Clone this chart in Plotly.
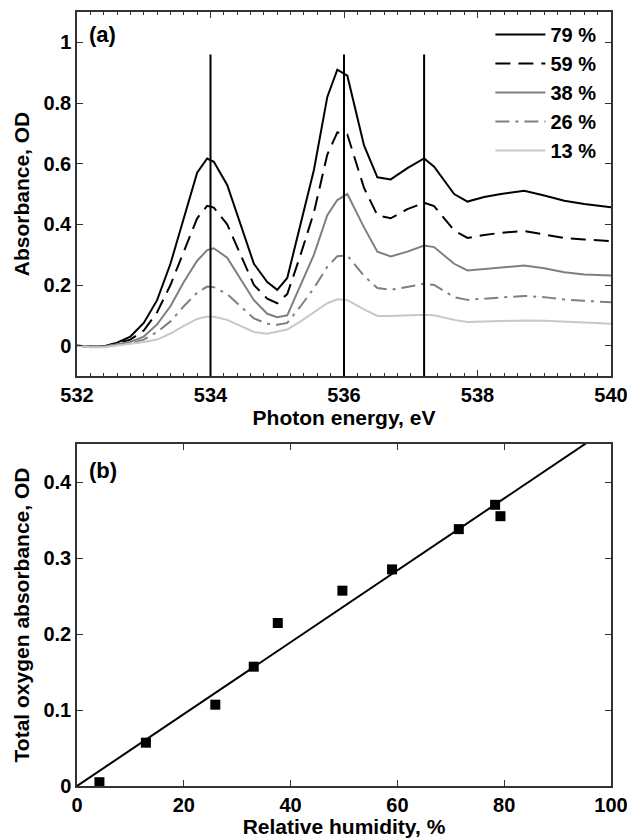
import plotly.graph_objects as go
from plotly.subplots import make_subplots

# ---------------- data: panel (a) ----------------
energy = [532.0, 532.2, 532.4, 532.6, 532.8, 533.0, 533.2, 533.4, 533.6, 533.8,
          533.95, 534.05, 534.25, 534.45, 534.65, 534.85, 535.0, 535.15, 535.35, 535.55,
          535.75, 535.9, 536.05, 536.3, 536.5, 536.7, 536.95, 537.2, 537.35, 537.65,
          537.85, 538.1, 538.35, 538.7, 539.0, 539.3, 539.6, 540.0]

abs_79 = [0.0, -0.003, -0.003, 0.01, 0.03, 0.075, 0.15, 0.27, 0.42, 0.57,
          0.617, 0.606, 0.53, 0.40, 0.27, 0.21, 0.184, 0.223, 0.40, 0.58,
          0.82, 0.910, 0.89, 0.66, 0.555, 0.548, 0.585, 0.617, 0.59, 0.50,
          0.475, 0.49, 0.50, 0.511, 0.495, 0.478, 0.467, 0.456]

abs_59 = [0.0, -0.003, -0.003, 0.008, 0.02, 0.05, 0.11, 0.20, 0.31, 0.42,
          0.461, 0.455, 0.40, 0.30, 0.20, 0.155, 0.14, 0.17, 0.30, 0.44,
          0.63, 0.703, 0.696, 0.52, 0.43, 0.42, 0.45, 0.471, 0.46, 0.38,
          0.355, 0.365, 0.372, 0.378, 0.367, 0.355, 0.35, 0.345]

abs_38 = [0.0, -0.003, -0.003, 0.005, 0.012, 0.03, 0.07, 0.13, 0.21, 0.28,
          0.315, 0.321, 0.29, 0.22, 0.15, 0.105, 0.094, 0.10, 0.20, 0.30,
          0.43, 0.48, 0.50, 0.39, 0.31, 0.294, 0.31, 0.33, 0.325, 0.27,
          0.248, 0.252, 0.258, 0.264, 0.255, 0.242, 0.235, 0.231]

abs_26 = [0.0, -0.003, -0.003, 0.003, 0.008, 0.02, 0.045, 0.08, 0.13, 0.175,
          0.195, 0.193, 0.17, 0.13, 0.09, 0.072, 0.069, 0.075, 0.13, 0.19,
          0.26, 0.295, 0.298, 0.23, 0.19, 0.184, 0.195, 0.204, 0.20, 0.16,
          0.151, 0.155, 0.16, 0.164, 0.16, 0.152, 0.148, 0.143]

abs_13 = [0.0, -0.005, -0.005, 0.0, 0.005, 0.012, 0.02, 0.04, 0.065, 0.088,
          0.096, 0.095, 0.085, 0.065, 0.045, 0.039, 0.045, 0.053, 0.08, 0.11,
          0.14, 0.153, 0.15, 0.12, 0.098, 0.098, 0.10, 0.102, 0.10, 0.085,
          0.078, 0.08, 0.082, 0.083, 0.082, 0.08, 0.076, 0.072]

series_names = ["79 %", "59 %", "38 %", "26 %", "13 %"]
series_values = [abs_79, abs_59, abs_38, abs_26, abs_13]

peak_lines = [534.0, 536.0, 537.2]
peak_line_top = 0.96

# ---------------- data: panel (b) ----------------
rh = [4.2, 12.9, 25.9, 33.1, 37.6, 49.7, 59.0, 71.5, 78.3, 79.3]
total_abs = [0.005, 0.057, 0.107, 0.157, 0.2145, 0.257, 0.285, 0.338, 0.37, 0.355]
fit_x = [0, 100]
fit_y = [0.0, 0.473]

# ---------------- styles ----------------
colors = ["#000000", "#000000", "#7f7f7f", "#7f7f7f", "#c8c8c8"]
dashes = ["solid", "15px,8px", "solid", "14px,6px,3px,6px", "solid"]

FONT = "Liberation Sans, Arial, sans-serif"
TICKF = dict(family=FONT, size=20, color="black", weight="bold")
TITLEF = dict(family=FONT, size=21, color="black", weight="bold")

fig = make_subplots(rows=2, cols=1, vertical_spacing=0.0)

for name, vals, c, d in zip(series_names, series_values, colors, dashes):
    fig.add_trace(go.Scatter(x=energy, y=vals, mode="lines", name=name,
                             line=dict(color=c, width=2, dash=d)), row=1, col=1)

for xv in peak_lines:
    fig.add_shape(type="line", x0=xv, x1=xv, y0=-0.1, y1=peak_line_top,
                  xref="x", yref="y", line=dict(color="black", width=2))

fig.add_trace(go.Scatter(x=fit_x, y=fit_y, mode="lines", showlegend=False,
                         line=dict(color="black", width=2)), row=2, col=1)
fig.add_trace(go.Scatter(x=rh, y=total_abs, mode="markers", showlegend=False,
                         marker=dict(symbol="square", size=10, color="black"),
                         cliponaxis=False), row=2, col=1)

axis_common = dict(showline=True, linecolor="#333333", linewidth=1.5, mirror="ticks",
                   ticks="inside", ticklen=6, tickwidth=1.2, tickcolor="#333333",
                   showgrid=False, zeroline=False, tickfont=TICKF, automargin=False)

fig.update_xaxes(**axis_common)
fig.update_yaxes(**axis_common)

H = 838.0
top_px, bot_px = 12, 52
plot_h = H - top_px - bot_px
def dom(y_top, y_bottom):
    return [(H - bot_px - y_bottom) / plot_h, (H - bot_px - y_top) / plot_h]

fig.update_layout(
    xaxis=dict(domain=[0, 1], range=[532, 540], tick0=532, dtick=2,
               minor=dict(dtick=0.2, ticks="inside", ticklen=3, tickcolor="#333333"),
               title=dict(text="Photon energy, eV", standoff=4, font=TITLEF)),
    yaxis=dict(domain=dom(12, 376), range=[-0.1, 1.1], tickvals=[0, 0.2, 0.4, 0.6, 0.8, 1.0],
               ticktext=["0", "0.2", "0.4", "0.6", "0.8", "1"],
               title=dict(text="Absorbance, OD", standoff=8, font=TITLEF)),
    xaxis2=dict(domain=[0, 1], range=[0, 100], dtick=20,
                title=dict(text="Relative humidity, %", standoff=4, font=TITLEF)),
    yaxis2=dict(domain=dom(444, 786), range=[0, 0.45], tickvals=[0, 0.1, 0.2, 0.3, 0.4],
                ticktext=["0", "0.1", "0.2", "0.3", "0.4"],
                title=dict(text="Total oxygen absorbance, OD", standoff=8, font=TITLEF)),
    width=630, height=838,
    margin=dict(l=77, r=19, t=top_px, b=bot_px, autoexpand=False),
    paper_bgcolor="white", plot_bgcolor="white",
    font=dict(family=FONT, color="black"),
    legend=dict(x=0.982, y=0.996, xanchor="right", yanchor="top",
                bgcolor="rgba(0,0,0,0)", borderwidth=0, itemwidth=50,
                font=dict(family=FONT, size=20, color="black", weight="bold"),
                tracegroupgap=0),
    annotations=[
        dict(text="(a)", xref="x domain", yref="y domain", x=0.018, y=0.978,
             xanchor="left", yanchor="top", showarrow=False,
             font=dict(family=FONT, size=22, color="black", weight="bold")),
        dict(text="(b)", xref="x2 domain", yref="y2 domain", x=0.018, y=0.965,
             xanchor="left", yanchor="top", showarrow=False,
             font=dict(family=FONT, size=22, color="black", weight="bold")),
    ],
)

fig.write_html("out.html")
